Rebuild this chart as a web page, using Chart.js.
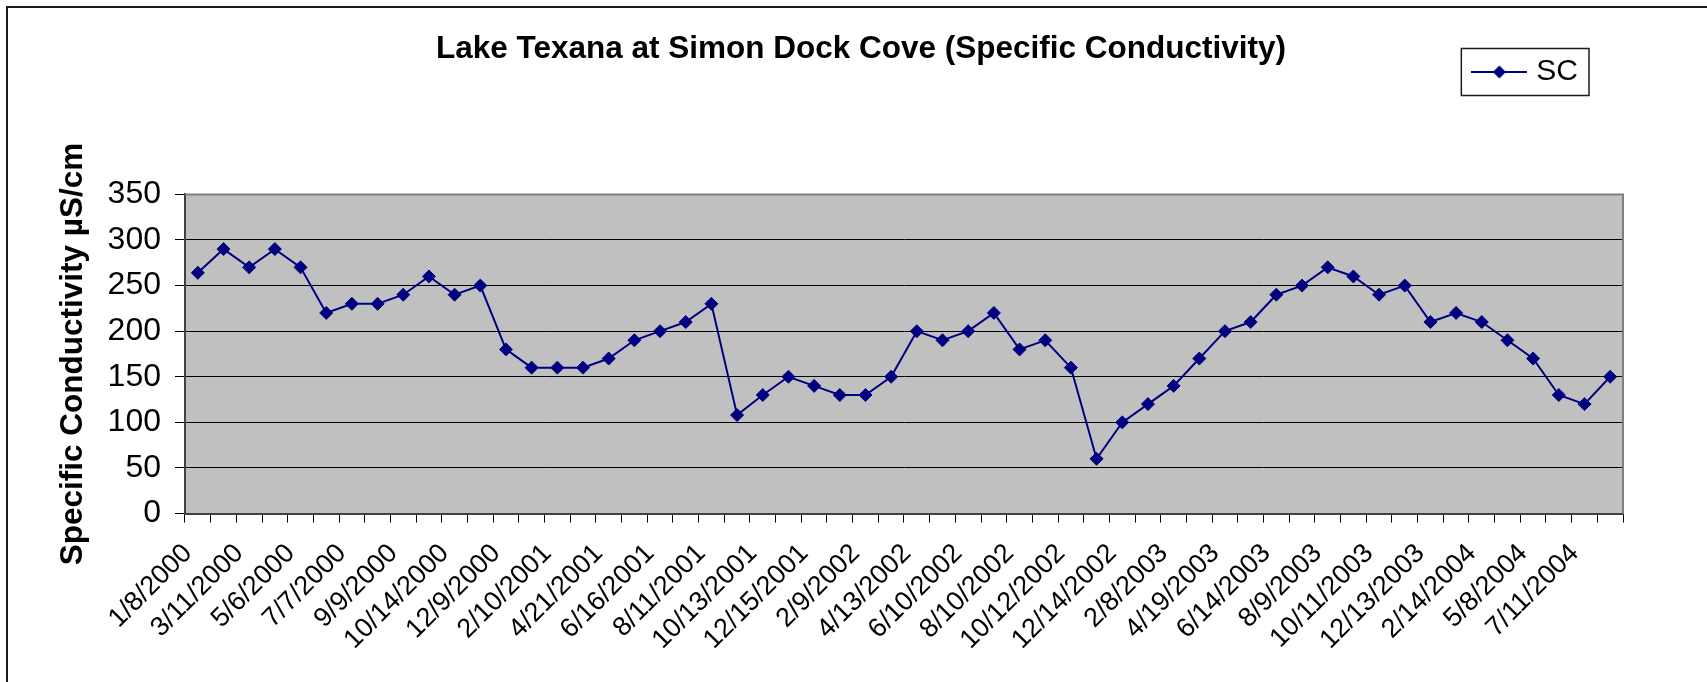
<!DOCTYPE html>
<html>
<head>
<meta charset="utf-8">
<title>Lake Texana at Simon Dock Cove (Specific Conductivity)</title>
<script src="https://cdn.jsdelivr.net/npm/chart.js@4.4.1/dist/chart.umd.min.js"></script>
<style>
  html, body { margin: 0; padding: 0; background: #fff; overflow: hidden; }
  #wrap { position: relative; width: 1707px; height: 682px; }
  #frame { position: absolute; left: 6px; top: 6px; width: 1800px; height: 800px; border: 2px solid #1a1a1a; }
  #grafico { position: absolute; left: 0; top: 0; }
</style>
</head>
<body>
<div id="wrap">
  <div id="frame"></div>
  <canvas id="grafico" width="1707" height="682"></canvas>
</div>
<script>
// fechas de muestreo (solo se rotulan una de cada dos, como en el original)
const fechas = [
  "1/8/2000", "2/12/2000", "3/11/2000", "4/8/2000", "5/6/2000", "6/10/2000",
  "7/7/2000", "8/12/2000", "9/9/2000", "9/30/2000", "10/14/2000", "11/11/2000",
  "12/9/2000", "1/13/2001", "2/10/2001", "3/17/2001", "4/21/2001", "5/19/2001",
  "6/16/2001", "7/14/2001", "8/11/2001", "9/15/2001", "10/13/2001", "11/10/2001",
  "12/15/2001", "1/12/2002", "2/9/2002", "3/16/2002", "4/13/2002", "5/11/2002",
  "6/10/2002", "7/13/2002", "8/10/2002", "9/14/2002", "10/12/2002", "11/9/2002",
  "12/14/2002", "1/11/2003", "2/8/2003", "3/15/2003", "4/19/2003", "5/17/2003",
  "6/14/2003", "7/12/2003", "8/9/2003", "9/13/2003", "10/11/2003", "11/8/2003",
  "12/13/2003", "1/10/2004", "2/14/2004", "4/10/2004", "5/8/2004", "6/12/2004",
  "7/11/2004", "8/14/2004"
];

// conductividad especifica (uS/cm)
const sc = [
  264, 290, 270, 290, 270, 220, 230, 230, 240, 260, 240, 250,
  180, 160, 160, 160, 170, 190, 200, 210, 230, 108, 130, 150,
  140, 130, 130, 150, 200, 190, 200, 220, 180, 190, 160, 60,
  100, 120, 140, 170, 200, 210, 240, 250, 270, 260, 240, 250,
  210, 220, 210, 190, 170, 130, 120, 150
];

const ejeY = { min: 0, max: 350, paso: 50 };

const azul = "#000080";
Chart.defaults.font.family = "'Liberation Sans', Arial, sans-serif";
Chart.defaults.color = "#000";

// simbolo de la leyenda: linea con rombo
const simbolo = document.createElement("canvas");
simbolo.width = 56;
simbolo.height = 16;
(function () {
    const c = simbolo.getContext("2d");
    c.strokeStyle = azul;
    c.lineWidth = 2;
    c.beginPath();
    c.moveTo(0, 8);
    c.lineTo(56, 8);
    c.stroke();
    c.fillStyle = azul;
    c.beginPath();
    c.moveTo(28, 1.5);
    c.lineTo(34.5, 8);
    c.lineTo(28, 14.5);
    c.lineTo(21.5, 8);
    c.closePath();
    c.fill();
})();

const fondoArea = {
    id: "fondoArea",
    beforeDraw(chart) {
        const { ctx, chartArea: a } = chart;
        ctx.save();
        ctx.fillStyle = "#C0C0C0";
        ctx.fillRect(a.left, a.top, a.right - a.left, a.bottom - a.top);
        ctx.restore();
    },
    afterDraw(chart) {
        const { ctx, chartArea: a } = chart;
        ctx.save();
        ctx.strokeStyle = "#808080";
        ctx.lineWidth = 2;
        ctx.beginPath();
        ctx.moveTo(a.left, a.top);
        ctx.lineTo(a.right, a.top);
        ctx.lineTo(a.right, a.bottom);
        ctx.stroke();
        // recuadro de la leyenda
        const hb = chart.legend.legendHitBoxes[0];
        if (hb) {
            ctx.strokeStyle = "#1a1a1a";
            ctx.lineWidth = 1.5;
            ctx.strokeRect(hb.left - 16, hb.top - 8.5, hb.width + 27, hb.height + 17);
        }
        ctx.restore();
    }
};

const ctx = document.getElementById("grafico").getContext("2d");
new Chart(ctx, {
    type: "line",
    data: {
        labels: fechas,
        datasets: [{
            label: "SC",
            data: sc,
            borderColor: azul,
            backgroundColor: azul,
            borderWidth: 2,
            tension: 0,
            pointStyle: "rectRot",
            pointRadius: 6.5,
            pointHoverRadius: 6.5,
            pointBackgroundColor: azul,
            pointBorderColor: azul,
            pointBorderWidth: 1
        }]
    },
    options: {
        responsive: false,
        animation: false,
        layout: {
            padding: { left: 99, right: 84, top: 12, bottom: 11 }
        },
        plugins: {
            legend: {
                position: "top",
                align: "end",
                weight: 3000,
                labels: {
                    usePointStyle: true,
                    pointStyleWidth: 44,
                    padding: 45,
                    font: { size: 30 },
                    color: "#000",
                    generateLabels: () => [{
                        text: "SC",
                        pointStyle: simbolo,
                        fillStyle: azul,
                        strokeStyle: azul,
                        lineWidth: 0,
                        datasetIndex: 0
                    }]
                }
            },
            title: {
                display: true,
                text: "Lake Texana at Simon Dock Cove (Specific Conductivity)",
                font: { size: 31.5, weight: "bold" },
                color: "#000",
                padding: { top: -66.4, bottom: 126 }
            },
            tooltip: { enabled: false }
        },
        scales: {
            x: {
                offset: true,
                grid: {
                    display: true,
                    offset: true,
                    drawOnChartArea: false,
                    tickLength: 9,
                    tickColor: "#000",
                    color: "#000"
                },
                border: { color: "#404040", width: 2 },
                ticks: {
                    autoSkip: false,
                    minRotation: 45,
                    maxRotation: 45,
                    padding: 15,
                    labelOffset: -10,
                    font: { size: 27 },
                    color: "#000",
                    callback: function (valor, i) {
                        return i % 2 === 0 ? fechas[i] : "";
                    }
                }
            },
            y: {
                min: ejeY.min,
                max: ejeY.max,
                grid: {
                    color: c => (c.tick && c.tick.value === ejeY.max ? "#808080" : "#000"),
                    tickColor: "#000",
                    tickLength: 10,
                    lineWidth: 1
                },
                border: { color: "#404040", width: 2 },
                ticks: {
                    stepSize: ejeY.paso,
                    padding: 14,
                    font: { size: 32 },
                    color: "#000"
                },
                title: {
                    display: true,
                    text: "Specific Conductivity µS/cm",
                    font: { size: 31.5, weight: "bold" },
                    color: "#000",
                    padding: { top: -44.9, bottom: 1.7 }
                }
            }
        }
    },
    plugins: [fondoArea]
});
</script>
</body>
</html>
